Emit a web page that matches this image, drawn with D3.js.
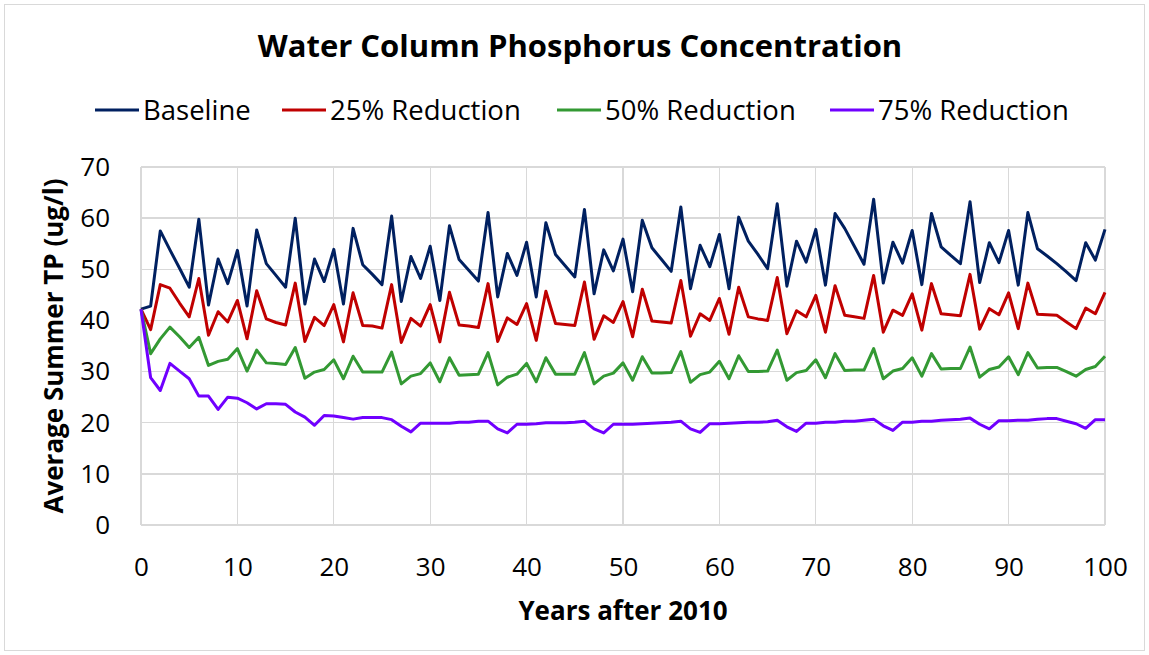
<!DOCTYPE html>
<meta charset="utf-8">
<style>
body { margin: 0; background: #fff; font-family: "Open Sans", sans-serif; }
.grid line { stroke: #d9d9d9; stroke-width: 1.3; shape-rendering: crispEdges; }
.tick text { fill: #000; }
</style>
<body>
<script src="https://d3js.org/d3.v7.min.js"></script>
<script>

// values, years 0..100
var years = d3.range(0, 101);

var baseline = [42.2, 42.8, 57.5, 53.8, 50.2, 46.5, 59.8, 43.0, 52.0, 47.2, 53.7,
  42.8, 57.7, 51.1, 48.8, 46.5, 60.0, 43.2, 52.0, 47.6, 53.9,
  43.2, 58.0, 50.9, 49.0, 47.0, 60.4, 43.7, 52.5, 48.2, 54.5,
  43.9, 58.5, 51.9, 49.8, 47.7, 61.1, 44.6, 53.1, 48.8, 55.3,
  44.6, 59.1, 52.9, 50.7, 48.5, 61.7, 45.2, 53.8, 49.7, 55.9,
  45.6, 59.6, 54.2, 51.9, 49.6, 62.2, 46.2, 54.7, 50.5, 56.8,
  46.2, 60.2, 55.5, 52.9, 50.1, 62.8, 46.7, 55.5, 51.4, 57.8,
  46.9, 60.9, 58.0, 54.5, 51.0, 63.7, 47.3, 55.3, 51.2, 57.6,
  47.0, 60.9, 54.4, 52.7, 51.1, 63.2, 47.4, 55.2, 51.3, 57.6,
  46.9, 61.1, 54.0, 52.6, 51.1, 49.5, 47.8, 55.2, 51.8, 57.8];

var red25 = [42.2, 38.2, 47.0, 46.3, 43.4, 40.7, 48.2, 37.1, 41.7, 39.7, 43.9,
  36.4, 45.8, 40.3, 39.6, 39.1, 47.3, 35.9, 40.6, 39.0, 43.1,
  35.8, 45.4, 39.0, 38.9, 38.5, 47.0, 35.7, 40.4, 38.9, 43.1,
  35.8, 45.5, 39.1, 38.9, 38.6, 47.2, 35.9, 40.5, 39.2, 43.3,
  36.1, 45.7, 39.4, 39.2, 39.0, 47.5, 36.3, 40.9, 39.6, 43.7,
  36.8, 46.1, 39.9, 39.7, 39.5, 47.8, 36.9, 41.3, 40.0, 44.3,
  37.3, 46.5, 40.7, 40.3, 40.0, 48.4, 37.4, 41.9, 40.7, 44.9,
  37.7, 46.8, 41.0, 40.7, 40.4, 48.8, 37.7, 42.0, 41.0, 45.2,
  38.1, 47.2, 41.3, 41.1, 40.9, 49.0, 38.3, 42.3, 41.1, 45.4,
  38.4, 47.3, 41.2, 41.1, 41.0, 39.7, 38.4, 42.4, 41.3, 45.5];

var green50 = [42.2, 33.5, 36.4, 38.7, 36.8, 34.7, 36.7, 31.2, 32.0, 32.4, 34.5,
  30.1, 34.2, 31.7, 31.6, 31.4, 34.7, 28.7, 29.9, 30.4, 32.3,
  28.6, 33.0, 29.9, 29.9, 29.9, 33.8, 27.6, 29.1, 29.6, 31.7,
  28.0, 32.7, 29.3, 29.4, 29.5, 33.7, 27.4, 28.9, 29.5, 31.6,
  28.0, 32.7, 29.5, 29.5, 29.5, 33.7, 27.6, 29.1, 29.7, 31.7,
  28.3, 32.9, 29.7, 29.7, 29.8, 33.9, 27.9, 29.4, 29.9, 32.0,
  28.6, 33.1, 30.0, 30.0, 30.1, 34.2, 28.3, 29.8, 30.2, 32.3,
  28.8, 33.5, 30.2, 30.3, 30.3, 34.5, 28.6, 30.1, 30.6, 32.7,
  29.1, 33.5, 30.5, 30.6, 30.6, 34.8, 28.9, 30.4, 30.9, 32.9,
  29.4, 33.7, 30.7, 30.8, 30.8, 30.0, 29.1, 30.4, 31.0, 33.0];

var purple75 = [42.2, 28.8, 26.3, 31.6, 30.1, 28.6, 25.2, 25.2, 22.6, 25.0, 24.8,
  23.9, 22.7, 23.7, 23.7, 23.6, 22.1, 21.1, 19.5, 21.4, 21.3,
  21.0, 20.7, 21.0, 21.0, 21.0, 20.6, 19.3, 18.2, 19.9, 19.9,
  19.9, 19.9, 20.1, 20.1, 20.3, 20.3, 18.8, 18.0, 19.7, 19.7,
  19.8, 20.0, 20.0, 20.0, 20.1, 20.3, 18.8, 18.0, 19.7, 19.7,
  19.7, 19.8, 19.9, 20.0, 20.1, 20.3, 18.8, 18.1, 19.8, 19.8,
  19.9, 20.0, 20.1, 20.1, 20.2, 20.5, 19.2, 18.3, 19.9, 19.9,
  20.1, 20.1, 20.3, 20.3, 20.5, 20.7, 19.4, 18.5, 20.1, 20.1,
  20.3, 20.3, 20.5, 20.6, 20.7, 20.9, 19.7, 18.8, 20.4, 20.4,
  20.5, 20.5, 20.7, 20.8, 20.8, 20.3, 19.8, 18.9, 20.6, 20.6];

var seriesNames = ["Baseline", "25% Reduction", "50% Reduction", "75% Reduction"];
var seriesColors = ["#002060", "#c00000", "#339933", "#7000ff"];
var seriesValues = [baseline, red25, green50, purple75];

var xTicks = [0, 10, 20, 30, 40, 50, 60, 70, 80, 90, 100];
var yTicks = [0, 10, 20, 30, 40, 50, 60, 70];

var W = 1149, H = 655;
var margin = {top: 167, right: 44, bottom: 130, left: 141};
var width = W - margin.left - margin.right,
    height = H - margin.top - margin.bottom;

var svg = d3.select("body").append("svg")
    .attr("width", W)
    .attr("height", H);

// outer chart frame
svg.append("rect")
    .attr("x", 4.5).attr("y", 4.5)
    .attr("width", W - 9).attr("height", H - 9)
    .attr("fill", "#fff")
    .attr("stroke", "#d9d9d9");

var g = svg.append("g")
    .attr("transform", "translate(" + margin.left + "," + margin.top + ")");

var x = d3.scaleLinear().domain([0, 100]).range([0, width]);
var y = d3.scaleLinear().domain([0, 70]).range([height, 0]);

// gridlines
g.append("g").attr("class", "grid")
  .selectAll("line").data(yTicks).enter().append("line")
    .attr("x1", 0).attr("x2", width)
    .attr("y1", function(d) { return y(d); })
    .attr("y2", function(d) { return y(d); });
g.append("g").attr("class", "grid")
  .selectAll("line").data(xTicks).enter().append("line")
    .attr("y1", 0).attr("y2", height)
    .attr("x1", function(d) { return x(d); })
    .attr("x2", function(d) { return x(d); });

// axes (labels only)
var xAxis = g.append("g")
    .attr("transform", "translate(0," + height + ")")
    .call(d3.axisBottom(x).tickValues(xTicks).tickSize(0).tickPadding(33));
var yAxis = g.append("g")
    .call(d3.axisLeft(y).tickValues(yTicks).tickSize(0).tickPadding(31));
[xAxis, yAxis].forEach(function(a) {
  a.select(".domain").remove();
  a.selectAll("text")
    .style("font-family", "'Open Sans', sans-serif")
    .style("font-size", "26px");
});

// the lines
var line = d3.line()
    .x(function(d, i) { return x(years[i]); })
    .y(function(d) { return y(d); });

seriesValues.forEach(function(vals, k) {
  g.append("path")
    .datum(vals)
    .attr("fill", "none")
    .attr("stroke", seriesColors[k])
    .attr("stroke-width", 3)
    .attr("stroke-linejoin", "round")
    .attr("d", line);
});

// title
svg.append("text")
    .attr("x", 580).attr("y", 57)
    .attr("text-anchor", "middle")
    .style("font-size", "31px")
    .style("font-weight", "bold")
    .text("Water Column Phosphorus Concentration");

// axis titles
svg.append("text")
    .attr("x", margin.left + width / 2).attr("y", 620)
    .attr("text-anchor", "middle")
    .style("font-size", "26px")
    .style("font-weight", "bold")
    .text("Years after 2010");

svg.append("text")
    .attr("transform", "translate(63," + (margin.top + height / 2) + ") rotate(-90)")
    .attr("text-anchor", "middle")
    .style("font-size", "26px")
    .style("font-weight", "bold")
    .text("Average Summer TP (ug/l)");

// legend
var legendX = [95, 282, 557, 830];
var legend = svg.selectAll(".legend")
    .data(seriesNames)
  .enter().append("g")
    .attr("class", "legend")
    .attr("transform", function(d, i) { return "translate(" + legendX[i] + ",110)"; });
legend.append("line")
    .attr("x1", 0).attr("x2", 44)
    .attr("stroke", function(d, i) { return seriesColors[i]; })
    .attr("stroke-width", 3);
legend.append("text")
    .attr("x", 48).attr("dy", "0.35em")
    .style("font-size", "27.5px")
    .text(function(d) { return d; });

</script>
</body>
